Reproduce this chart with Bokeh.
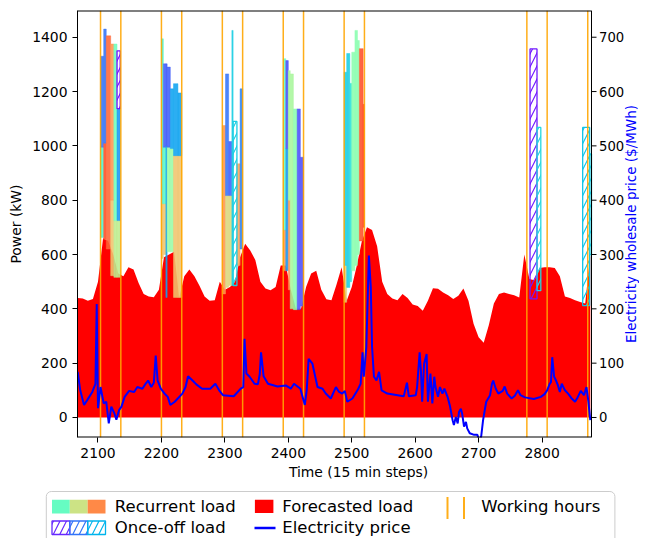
import numpy as np
from bokeh.plotting import figure
from bokeh.models import Range1d, FixedTicker, ColumnDataSource
from bokeh.embed import file_html
from bokeh.resources import INLINE
from bokeh.core.properties import value

FONT = "DejaVu Sans"

# ---------------- data ----------------
# forecasted load (kW), one value per 8 time steps starting at step 2064
forecast_t0 = 2064
forecast_dt = 8
forecast_kw = [440, 438, 430, 436, 500, 660, 650, 600, 530, 520,
               553, 545, 495, 455, 445, 443, 470, 590, 600, 610,
               440, 520, 545, 520, 485, 445, 430, 432, 500, 470,
               480, 500, 590, 640, 615, 580, 500, 475, 468, 480,
               560, 560, 470, 400, 400, 480, 530, 540, 470, 435,
               432, 490, 553, 430, 480, 560, 650, 700, 690, 630,
               500, 455, 438, 432, 455, 440, 416, 410, 393, 430,
               476, 474, 460, 450, 436, 448, 475, 430, 345, 295,
               275, 340, 420, 455, 460, 455, 450, 442, 600, 510,
               505, 550, 553, 553, 550, 520, 445, 440, 432, 425,
               420, 600]

# electricity wholesale price ($/MWh)
price_t = [2068, 2072, 2078, 2083, 2091, 2096, 2098, 2100, 2104, 2109,
           2113, 2117, 2121, 2126, 2129, 2133, 2137, 2142, 2149, 2157,
           2162, 2170, 2175, 2179, 2184, 2188, 2191, 2194, 2199, 2205,
           2210, 2214, 2221, 2233, 2238, 2242, 2249, 2255, 2264, 2277,
           2285, 2291, 2297, 2314, 2325, 2329, 2331, 2334, 2339, 2347,
           2352, 2355, 2357, 2361, 2368, 2383, 2396, 2404, 2409, 2419,
           2426, 2429, 2432, 2438, 2446, 2454, 2459, 2467, 2475, 2480,
           2485, 2489, 2493, 2501, 2509, 2514, 2517, 2519, 2523, 2527,
           2530, 2532, 2535, 2539, 2543, 2547, 2556, 2577, 2582, 2587,
           2590, 2601, 2603, 2607, 2609, 2611, 2614, 2618, 2620, 2624,
           2627, 2630, 2632, 2636, 2639, 2643, 2646, 2651, 2655, 2659,
           2661, 2664, 2667, 2669, 2672, 2674, 2677, 2680, 2682, 2686,
           2693, 2698, 2702, 2704, 2707, 2710, 2712, 2718, 2721, 2723,
           2727, 2731, 2738, 2741, 2745, 2752, 2757, 2762, 2766, 2773,
           2787, 2798, 2804, 2808, 2812, 2814, 2816, 2819, 2822, 2825,
           2828, 2831, 2836, 2841, 2846, 2852, 2856, 2861, 2866, 2870,
           2873, 2876, 2878]
price_mwh = [84, 50, 23, 32, 47, 62, 209, 17, 56, 26,
             29, -11, 20, 7, -4, 13, 20, 38, 49, 47,
             56, 53, 62, 68, 56, 64, 114, 68, 53, 44,
             38, 23, 29, 44, 56, 76, 68, 61, 53, 53,
             62, 50, 41, 39, 53, 56, 145, 81, 75, 62,
             61, 80, 120, 76, 62, 57, 59, 53, 62, 53,
             23, 50, 108, 99, 56, 53, 44, 35, 56, 47,
             44, 49, 29, 35, 50, 62, 120, 75, 130, 298,
             240, 130, 75, 68, 84, 50, 44, 40, 39, 64,
             39, 41, 56, 120, 87, 29, 99, 117, 29, 81,
             26, 75, 56, 38, 56, 44, 53, 38, 20, -5,
             -14, 1, -11, 10, 16, 7, -17, -8, -20, -29,
             -32, -32, -45, -35, -5, 16, 29, 41, 62, 68,
             53, 44, 49, 57, 44, 35, 40, 50, 41, 37,
             34, 38, 43, 50, 62, 65, 111, 75, 68, 59,
             47, 62, 50, 44, 36, 29, 37, 49, 41, 56,
             29, -5, 7]

# working hours (start step of each working day, 32 steps long)
work_start = [2104, 2200, 2296, 2392, 2488, 2776, 2872]
work_len = 32

# recurrent loads: step start, step end, lower and upper power (kW), colormap position
rec_t0 = [2104, 2104, 2109, 2109, 2113, 2120, 2120, 2125, 2125, 2130, 2130,
          2200, 2200, 2203, 2203, 2203, 2207, 2207, 2209, 2209, 2214, 2214, 2219, 2219, 2226, 2226,
          2296, 2301, 2301, 2306, 2306, 2311, 2319, 2324,
          2392, 2392, 2396, 2396, 2400, 2400, 2403, 2408, 2414, 2419,
          2488, 2488, 2492, 2497, 2500, 2505, 2509, 2512, 2518]
rec_t1 = [2109, 2109, 2113, 2113, 2120, 2125, 2125, 2130, 2130, 2135, 2135,
          2203, 2203, 2207, 2207, 2207, 2209, 2209, 2214, 2214, 2219, 2219, 2226, 2226, 2232, 2232,
          2301, 2306, 2306, 2311, 2311, 2313, 2324, 2328,
          2396, 2396, 2400, 2400, 2403, 2403, 2408, 2414, 2419, 2424,
          2492, 2492, 2497, 2500, 2505, 2509, 2512, 2518, 2520]
rec_lo = [663, 995, 655, 1010, 620, 522, 800, 516, 725, 516, 725,
          585, 787, 600, 787, 995, 442, 1000, 610, 995, 610, 990, 442, 964, 442, 964,
          455, 479, 817, 486, 817, 486, 560, 620,
          540, 690, 540, 990, 470, 800, 400, 397, 397, 410,
          424, 560, 479, 500, 540, 560, 600, 650, 700]
rec_hi = [995, 1330, 1010, 1430, 1405, 800, 1375, 725, 1375, 725, 1137,
          787, 1394, 787, 995, 1302, 1000, 1302, 995, 1290, 990, 1210, 964, 1229, 964, 1195,
          1075, 817, 1265, 817, 1016, 1425, 934, 1210,
          690, 1321, 990, 1314, 800, 1277, 1265, 1136, 1136, 958,
          560, 1271, 1340, 1230, 1345, 1425, 1388, 1358, 1153]
rec_shade = [0.40, 0.15, 0.90, 0.15, 0.87, 0.72, 0.80, 0.62, 0.47, 0.62, 0.20,
             0.72, 0.40, 0.72, 0.42, 0.12, 0.22, 0.12, 0.55, 0.12, 0.55, 0.22, 0.72, 0.22, 0.72, 0.22,
             0.80, 0.68, 0.15, 0.68, 0.12, 0.30, 0.78, 0.17,
             0.80, 0.45, 0.20, 0.10, 0.80, 0.58, 0.58, 0.52, 0.10, 0.10,
             0.70, 0.30, 0.30, 0.35, 0.52, 0.52, 0.52, 0.90, 0.92]

# once-off loads
once_t0 = [2130, 2313, 2781, 2792, 2864, 2875]
once_t1 = [2135, 2319, 2792, 2798, 2875, 2879]
once_lo = [1137, 486, 437, 467, 412, 600]
once_hi = [1350, 1090, 1357, 1068, 1068, 970]
once_shade = [0.02, 0.30, 0.03, 0.32, 0.28, 0.30]

x_ticks = [2100, 2200, 2300, 2400, 2500, 2600, 2700, 2800]
kw_ticks = [0, 200, 400, 600, 800, 1000, 1200, 1400]
price_ticks = [0, 100, 200, 300, 400, 500, 600, 700]

x_lim = (2067.7, 2877.9)
kw_lim = (-73.7, 1498.4)
price_lim = (-36.85, 749.2)


def rainbow(v):
    r = min(1.0, abs(2 * v - 0.5))
    g = np.sin(np.pi * v)
    b = np.cos(np.pi * v / 2)
    return "#%02x%02x%02x" % (int(round(r * 255)), int(round(g * 255)), int(round(b * 255)))


# ---------------- main chart ----------------
# The plotting area is 514 px wide; the price axis (ticks, labels, title) is
# drawn in an extra strip on the right of the same canvas.
W, H1 = 639, 489
BL, BT, BB = 77, 10, 52
AREA_W = 514
pps = AREA_W / (x_lim[1] - x_lim[0])          # pixels per time step
x_view = (x_lim[0], x_lim[0] + (W - BL) / pps)  # extends over the right axis strip

p = figure(width=W, height=H1,
           x_range=Range1d(*x_view), y_range=Range1d(*kw_lim),
           output_backend="svg", toolbar_location=None,
           min_border_left=BL, min_border_top=BT, min_border_bottom=BB, min_border_right=0)
p.extra_y_ranges = {"price": Range1d(*price_lim)}
p.xgrid.visible = False
p.ygrid.visible = False
p.outline_line_color = None
p.background_fill_color = "white"

fc = forecast_t0 + forecast_dt / 2 + forecast_dt * np.arange(len(forecast_kw))
p.varea(x=fc, y1=0, y2=forecast_kw, fill_color="#ff0000")

rec_src = ColumnDataSource(dict(l=rec_t0, r=rec_t1, b=rec_lo, t=rec_hi,
                                c=[rainbow(v) for v in rec_shade]))
p.quad(left="l", right="r", bottom="b", top="t", source=rec_src,
       fill_color="c", fill_alpha=0.88, line_color="c", line_alpha=0.88, line_width=0.5)

once_src = ColumnDataSource(dict(l=once_t0, r=np.minimum(once_t1, x_lim[1]), b=once_lo, t=once_hi,
                                 c=[rainbow(v) for v in once_shade]))
p.quad(left="l", right="r", bottom="b", top="t", source=once_src,
       fill_alpha=0, line_color="c", line_width=1.3,
       hatch_pattern="/", hatch_color="c", hatch_scale=13, hatch_weight=1.2)

ws = np.array(work_start, dtype=float)
wx = np.concatenate([ws, ws + work_len])
wx = wx[wx <= x_lim[1]]
p.segment(x0=wx, x1=wx, y0=kw_lim[0], y1=kw_lim[1],
          line_color="#ffa500", line_width=1.5, line_alpha=0.9)

pt = np.array(price_t, dtype=float)
keep = pt <= x_lim[1]
p.line(pt[keep], np.array(price_mwh)[keep], y_range_name="price", line_color="#0000ff", line_width=2)

# box around the plotting area
p.segment(x0=[x_lim[0], x_lim[0]], x1=[x_lim[1], x_lim[1]], y0=[kw_lim[0], kw_lim[1]],
          y1=[kw_lim[0], kw_lim[1]], line_color="black", line_width=2)
p.segment(x0=[x_lim[1]], x1=[x_lim[1]], y0=[kw_lim[0]], y1=[kw_lim[1]],
          line_color="black", line_width=1)

# price axis: ticks, labels, title
p.segment(x0=x_lim[1], x1=x_lim[1] + 5 / pps, y0=price_ticks, y1=price_ticks,
          y_range_name="price", line_color="black", line_width=1)
p.text(x=[x_lim[1] + 7.5 / pps] * len(price_ticks), y=price_ticks,
       text=[str(v) for v in price_ticks], y_range_name="price",
       text_align="left", text_baseline="middle",
       text_font=value(FONT), text_font_size="13.2px", text_color="black")
p.text(x=[x_lim[1] + 39.8 / pps], y=[(price_lim[0] + price_lim[1]) / 2],
       text=["Electricity wholesale price ($/MWh)"], y_range_name="price",
       angle=np.pi / 2, text_align="center", text_baseline="middle",
       text_font=value(FONT), text_font_size="13.5px", text_color="#0000ff")

p.xaxis.ticker = FixedTicker(ticks=x_ticks)
p.yaxis.ticker = FixedTicker(ticks=kw_ticks)
p.xaxis.axis_label = "Time (15 min steps)"
p.yaxis.axis_label = "Power (kW)"

for ax in list(p.xaxis) + list(p.yaxis):
    ax.axis_line_color = "black"
    ax.axis_line_width = 1
    ax.major_tick_line_color = "black"
    ax.major_tick_out = 5
    ax.major_tick_in = 0
    ax.minor_tick_line_color = None
    ax.major_label_text_font = FONT
    ax.major_label_text_font_size = "13.9px"
    ax.major_label_text_color = "black"
    ax.axis_label_text_font = FONT
    ax.axis_label_text_font_size = "13.9px"
    ax.axis_label_text_font_style = "normal"
    ax.axis_label_text_color = "black"
p.xaxis.axis_line_color = None
p.xaxis.axis_label_standoff = 3

# ---------------- legend (separate block below the chart) ----------------
LW, LH = W, 49
lg = figure(width=LW, height=LH, x_range=Range1d(0, LW), y_range=Range1d(LH, 0),
            output_backend="svg", toolbar_location=None, min_border=0,
            x_axis_type=None, y_axis_type=None)
lg.outline_line_color = None
lg.xgrid.visible = False
lg.ygrid.visible = False

lg.quad(left=[45.8], right=[614.4], top=[2], bottom=[80], fill_color="white",
        line_color="#cccccc", line_width=1, border_radius=5)

sw_l = [51.5, 69.3, 87.2]
sw_r = [69.3, 87.2, 105.0]
lg.quad(left=sw_l, right=sw_r, top=10.3, bottom=24.1,
        fill_color=[rainbow(0.45), rainbow(0.65), rainbow(0.82)], line_color=None)
lg.quad(left=[254.4], right=[272.9], top=10.3, bottom=23.5, fill_color="#ff0000", line_color=None)
lg.segment(x0=[447, 463.5], x1=[447, 463.5], y0=7.5, y1=29.5, line_color="#ffa500",
           line_width=2, line_alpha=0.9)
oc = [rainbow(0.05), rainbow(0.15), rainbow(0.25)]
lg.quad(left=sw_l, right=sw_r, top=31.5, bottom=45, fill_alpha=0, line_color=oc,
        line_width=1.3, hatch_pattern="/", hatch_color=oc, hatch_scale=13, hatch_weight=1.2)
lg.line([254, 275], [38.5, 38.5], line_color="#0000ff", line_width=2.5)

lg.text(x=[114.3, 281.8, 480.8, 114.3, 281.8], y=[16.5, 16.5, 16.5, 38, 38],
        text=["Recurrent load", "Forecasted load", "Working hours", "Once-off load", "Electricity price"],
        text_font=value(FONT), text_font_size="16.5px", text_baseline="middle",
        text_color="black")

open("out.html", "w").write(file_html([p, lg], INLINE))
